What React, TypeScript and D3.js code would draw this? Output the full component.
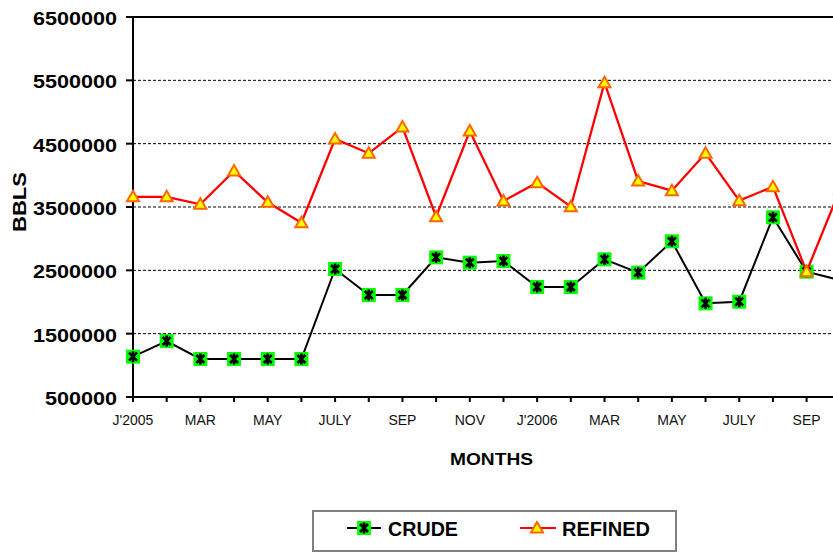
import React from "react";
import * as d3 from "d3";

const months = [
  "Jan05", "Feb05", "Mar05", "Apr05", "May05", "Jun05", "Jul05", "Aug05", "Sep05", "Oct05", "Nov05", "Dec05",
  "Jan06", "Feb06", "Mar06", "Apr06", "May06", "Jun06", "Jul06", "Aug06", "Sep06", "Oct06",
];
const monthLabels = [
  "J'2005", "", "MAR", "", "MAY", "", "JULY", "", "SEP", "", "NOV", "",
  "J'2006", "", "MAR", "", "MAY", "", "JULY", "", "SEP", "",
];
const crude = [
  1137000, 1384000, 1100000, 1100000, 1100000, 1100000, 2521000, 2110000, 2110000, 2705000, 2621000, 2647000,
  2237000, 2237000, 2674000, 2463000, 2958000, 1979000, 2005000, 3337000, 2479000, 2344000,
];
const refined = [
  3660000, 3660000, 3542000, 4068000, 3574000, 3252000, 4574000, 4348000, 4763000, 3347000, 4700000, 3595000,
  3884000, 3505000, 5463000, 3910000, 3758000, 4348000, 3600000, 3821000, 2479000, 3790000,
];
const yTicks = [500000, 1500000, 2500000, 3500000, 4500000, 5500000, 6500000];
const gridTicks = [1500000, 2500000, 3500000, 4500000, 5500000];

const W = 833;
const H = 552;
const left = 133;
const top = 17;
const bottom = 397;
const step = 33.68;

export default function App() {
  const x = d3.scalePoint<string>().domain(months).range([left, left + step * (months.length - 1)]);
  const y = d3.scaleLinear().domain([500000, 6500000]).range([bottom, top]);
  const line = d3
    .line<number>()
    .x((_, i) => x(months[i]) as number)
    .y((d) => y(d));

  const font = "'Liberation Sans', Arial, sans-serif";
  const tri = "M0,-6 L6,4.5 L-6,4.5 Z";
  const star = "M-4,-4 L4,4 M-4,4 L4,-4 M0,-5.5 L0,5.5";

  return (
    <svg
      width={W}
      height={H}
      style={{ position: "absolute", left: 0, top: 0, background: "#fff" }}
      fontFamily={font}
    >
      <rect x={0} y={0} width={W} height={H} fill="#fff" />
      {gridTicks.map((t) => (
        <line key={t} x1={left} x2={W} y1={y(t)} y2={y(t)} stroke="#000" strokeWidth={1} strokeDasharray="3,2" />
      ))}
      <line x1={left} x2={W} y1={y(6500000)} y2={y(6500000)} stroke="#000" strokeWidth={2} />
      <line x1={left} x2={left} y1={top - 1} y2={bottom + 1} stroke="#000" strokeWidth={2} />
      <line x1={left - 1} x2={W} y1={bottom} y2={bottom} stroke="#000" strokeWidth={2} />
      {yTicks.map((t) => (
        <g key={t}>
          <line x1={left - 7} x2={left} y1={y(t)} y2={y(t)} stroke="#000" strokeWidth={2} />
          <text
            x={117}
            y={y(t) + 8}
            textAnchor="end"
            fontSize={17.5}
            fontWeight="bold"
            textLength={String(t).length * 12}
            lengthAdjust="spacingAndGlyphs"
          >
            {t}
          </text>
        </g>
      ))}
      {months.map((m, i) => (
        <g key={m}>
          <line x1={x(m)} x2={x(m)} y1={bottom} y2={bottom + 5} stroke="#000" strokeWidth={2} />
          {monthLabels[i] && (
            <text x={x(m)} y={425} textAnchor="middle" fontSize={14} fill="#111">
              {monthLabels[i]}
            </text>
          )}
        </g>
      ))}
      <text
        transform="translate(26,202) rotate(-90)"
        textAnchor="middle"
        fontSize={18}
        fontWeight="bold"
        textLength={60}
        lengthAdjust="spacingAndGlyphs"
      >
        BBLS
      </text>
      <text x={491.5} y={465} textAnchor="middle" fontSize={17} fontWeight="bold" textLength={83} lengthAdjust="spacingAndGlyphs">
        MONTHS
      </text>

      <path d={line(crude) || ""} fill="none" stroke="#000" strokeWidth={2} />
      {crude.map((v, i) => (
        <g key={"c" + i} transform={`translate(${x(months[i])},${y(v)})`}>
          <rect x={-7} y={-7} width={14} height={14} fill="#00ff00" />
          <path d={star} stroke="#000" strokeWidth={2.6} fill="none" />
        </g>
      ))}
      <path d={line(refined) || ""} fill="none" stroke="#ff0000" strokeWidth={2.3} />
      {refined.map((v, i) => (
        <path key={"r" + i} d={tri} transform={`translate(${x(months[i])},${y(v)})`} fill="#ffff00" stroke="#ff6600" strokeWidth={2} />
      ))}

      <rect x={313} y={511} width={363} height={40} fill="#fff" stroke="#808080" strokeWidth={2} />
      <line x1={347} x2={381} y1={528} y2={528} stroke="#000" strokeWidth={2} />
      <g transform="translate(364,528)">
        <rect x={-7} y={-7} width={14} height={14} fill="#00ff00" />
        <path d={star} stroke="#000" strokeWidth={2.6} fill="none" />
      </g>
      <text x={388} y={536} fontSize={20} fontWeight="bold" textLength={70} lengthAdjust="spacingAndGlyphs">
        CRUDE
      </text>
      <line x1={520} x2={556} y1={528} y2={528} stroke="#ff0000" strokeWidth={2} />
      <path d={tri} transform="translate(537,528)" fill="#ffff00" stroke="#ff6600" strokeWidth={2} />
      <text x={562} y={536} fontSize={20} fontWeight="bold" textLength={88} lengthAdjust="spacingAndGlyphs">
        REFINED
      </text>
    </svg>
  );
}
